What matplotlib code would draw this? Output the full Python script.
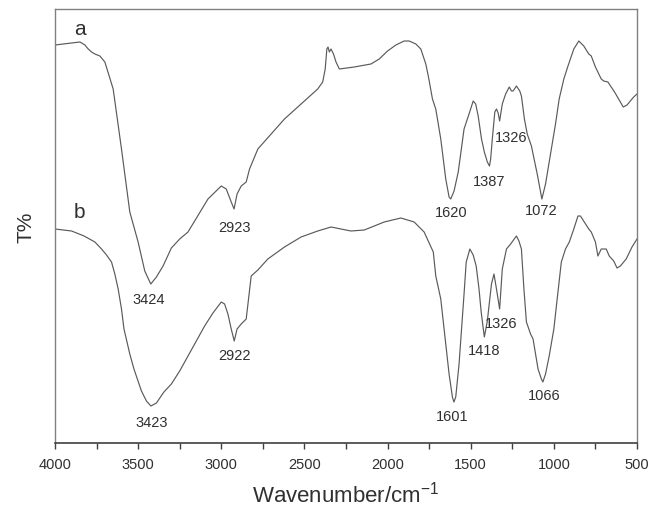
import matplotlib
matplotlib.use("Agg")
import matplotlib.pyplot as plt
from matplotlib.ticker import MultipleLocator

plt.rcParams['font.family'] = ['Liberation Sans', 'DejaVu Sans']
plt.rcParams['mathtext.default'] = 'regular'

# FTIR spectrum a: wavenumber (cm^-1) and transmittance (arbitrary units)
wn_a = [4000, 3950, 3900, 3850, 3820, 3800, 3780, 3760, 3730, 3700, 3650, 3600,
        3550, 3500, 3460, 3424, 3390, 3350, 3300, 3250, 3200, 3080, 3000, 2970,
        2940, 2923, 2905, 2880, 2850, 2830, 2800, 2780, 2700, 2620, 2500, 2420,
        2390, 2375, 2365, 2358, 2350, 2340, 2325, 2310, 2290, 2200, 2100, 2050,
        2000, 1950, 1900, 1870, 1830, 1800, 1770, 1755, 1730, 1710, 1680, 1650,
        1630, 1620, 1600, 1575, 1540, 1510, 1485, 1470, 1455, 1435, 1418, 1400,
        1387, 1380, 1370, 1355, 1345, 1335, 1326, 1310, 1290, 1268, 1255, 1245,
        1225, 1205, 1195, 1177, 1160, 1135, 1100, 1072, 1050, 1015, 990, 968,
        940, 915, 880, 850, 820, 790, 775, 750, 715, 700, 675, 655, 635, 600,
        583, 560, 545, 520, 500]
t_a = [397, 398, 399, 400, 397, 393, 390, 388, 386, 380, 353, 293,
       230, 200, 171, 158, 165, 176, 194, 203, 210, 243, 256, 253,
       240, 233, 248, 256, 260, 273, 285, 293, 308, 323, 341, 353,
       360, 373, 393, 395, 390, 393, 388, 380, 373, 375, 378, 383,
       391, 397, 401, 401, 398, 393, 378, 366, 343, 333, 303, 263,
       245, 243, 251, 270, 313, 328, 341, 338, 326, 303, 290, 280,
       276, 283, 303, 330, 333, 329, 321, 338, 348, 355, 351, 351,
       356, 351, 346, 323, 308, 296, 268, 243, 258, 293, 318, 343,
       363, 376, 393, 401, 396, 388, 386, 375, 363, 361, 360, 355, 350, 340,
       335, 337, 340, 345, 348]

# FTIR spectrum b
wn_b = [4000, 3900, 3825, 3760, 3720, 3690, 3660, 3640, 3620, 3600, 3585, 3550,
        3525, 3480, 3450, 3423, 3390, 3345, 3300, 3250, 3200, 3150, 3100, 3050,
        3000, 2980, 2960, 2940, 2922, 2905, 2880, 2850, 2820, 2780, 2720, 2620,
        2520, 2420, 2340, 2220, 2140, 2020, 1920, 1840, 1780, 1725, 1710, 1680,
        1660, 1630, 1610, 1601, 1590, 1570, 1555, 1540, 1527, 1505, 1485, 1467,
        1450, 1437, 1418, 1400, 1390, 1375, 1360, 1345, 1326, 1310, 1285, 1260,
        1225, 1210, 1195, 1180, 1165, 1140, 1125, 1095, 1075, 1066, 1050, 1028,
        1000, 980, 955, 930, 907, 880, 855, 840, 790, 775, 750, 735, 715, 685,
        667, 640, 620, 600, 565, 530, 500]
t_b = [213, 211, 206, 200, 193, 187, 180, 168, 153, 133, 113, 88,
       73, 51, 41, 36, 39, 50, 58, 71, 86, 101, 116, 129,
       140, 138, 128, 113, 101, 113, 118, 123, 166, 172, 183, 195,
       205, 211, 215, 211, 212, 220, 224, 220, 210, 190, 166, 143,
       113, 68, 45, 40, 45, 78, 113, 148, 180, 193, 187, 176,
       153, 130, 105, 121, 136, 158, 168, 153, 133, 173, 193, 198,
       206, 201, 193, 153, 120, 108, 103, 73, 63, 60, 68, 86,
       113, 143, 180, 193, 200, 213, 226, 226, 213, 210, 200, 186, 193, 193,
       186, 181, 174, 176, 183, 195, 203]

# Annotated band positions and where their labels sit (x: cm^-1, y: a.u.)
peaks_a = [3424, 2923, 1620, 1387, 1326, 1072]
label_xy_a = [(3434, 143), (2923, 215), (1620, 230), (1387, 261), (1256, 305), (1076, 232)]
peaks_b = [3423, 2922, 1601, 1418, 1326, 1066]
label_xy_b = [(3416, 20), (2923, 87), (1611, 26), (1419, 92), (1317, 119), (1058, 47)]

line_color = '#5a5a5a'
frame_color = '#808080'
text_color = '#303030'

fig = plt.figure(figsize=(6.49, 5.10), dpi=100)
ax = fig.add_axes([0.0847, 0.1294, 0.8968, 0.851])

ax.plot(wn_a, t_a, color=line_color, lw=0.85)
ax.plot(wn_b, t_b, color=line_color, lw=0.85)

for p, (x, y) in zip(peaks_a, label_xy_a):
    ax.text(x, y, str(p), ha='center', va='center', fontsize=10.5, color=text_color)
for p, (x, y) in zip(peaks_b, label_xy_b):
    ax.text(x, y, str(p), ha='center', va='center', fontsize=10.5, color=text_color)

ax.text(3850, 413, 'a', ha='center', va='center', fontsize=15, color=text_color)
ax.text(3850, 231, 'b', ha='center', va='center', fontsize=15, color=text_color)

ax.set_xlim(4000, 500)
ax.set_ylim(-1, 433)
ax.xaxis.set_major_locator(MultipleLocator(500))
ax.xaxis.set_minor_locator(MultipleLocator(250))
ax.tick_params(axis='x', which='both', direction='out', length=4, width=1,
               color='#404040', labelsize=10.5, labelcolor=text_color, pad=6,
               top=False)
ax.tick_params(axis='y', left=False, right=False, labelleft=False)

for side in ['left', 'right', 'top']:
    ax.spines[side].set_color(frame_color)
    ax.spines[side].set_linewidth(1.0)
ax.spines['bottom'].set_color('#404040')
ax.spines['bottom'].set_linewidth(1.2)

ax.set_xlabel('Wavenumber/cm$^{-1}$', fontsize=16, color=text_color, labelpad=7)
ax.set_ylabel('T%', fontsize=15, color=text_color, labelpad=14)

fig.savefig('out.png', dpi=100)
